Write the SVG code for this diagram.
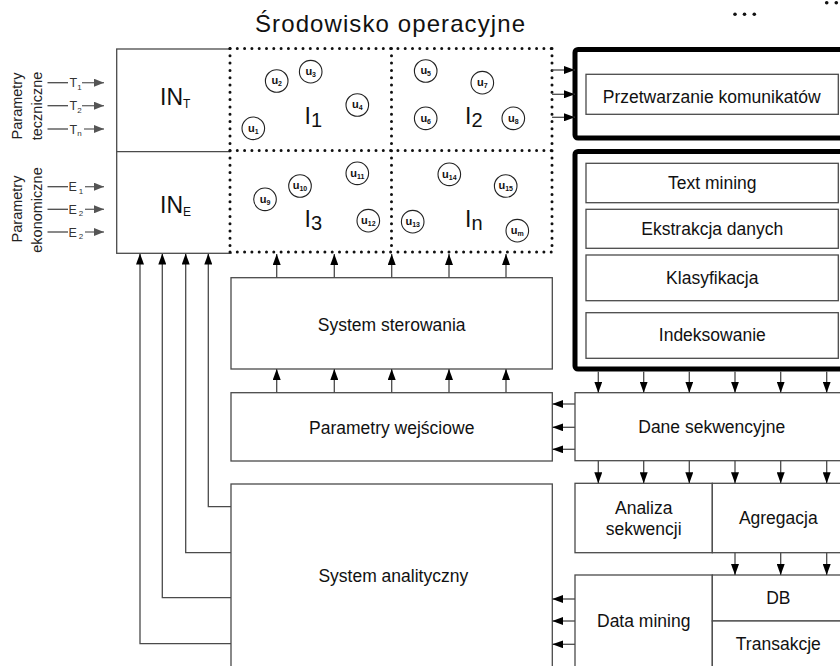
<svg xmlns="http://www.w3.org/2000/svg" width="840" height="666" viewBox="0 0 840 666">
  <style>
    .box { fill: #fff; stroke: #4a4a4a; stroke-width: 1.3; }
    .thick { fill: #fff; stroke: #000; stroke-width: 5; }
    .dots { fill: none; stroke: #111; stroke-width: 3; stroke-linecap: round; stroke-dasharray: 0 7.3; }
    .lbl { font-family: "Liberation Sans", Arial, sans-serif; font-size: 17.5px; fill: #111; text-anchor: middle; }
    .conn { fill: none; stroke: #4a4a4a; stroke-width: 1.3; }
    .arr { fill: none; stroke: #4a4a4a; stroke-width: 1.3; marker-end: url(#ah); }
    .garr { fill: none; stroke: #666; stroke-width: 1.3; marker-end: url(#ahg); }
    .par { font-family: "Liberation Sans", Arial, sans-serif; font-size: 12.5px; fill: #333; }
    .rot { font-family: "Liberation Sans", Arial, sans-serif; font-size: 14.5px; fill: #222; text-anchor: middle; }
    .ucirc { fill: #fff; stroke: #222; stroke-width: 1.1; }
    .ut { font-family: "Liberation Sans", Arial, sans-serif; font-size: 11px; font-weight: bold; fill: #111; text-anchor: middle; }
    .big { font-family: "Liberation Sans", Arial, sans-serif; font-size: 23px; fill: #111; }
    .dot { fill: #111; }
  </style>
  <defs>
    <marker id="ah" markerUnits="userSpaceOnUse" markerWidth="11" markerHeight="8" refX="11" refY="4" orient="auto">
      <path d="M0,0 L11,4 L0,8 z" fill="#000"/>
    </marker>
    <marker id="ahg" markerUnits="userSpaceOnUse" markerWidth="10" markerHeight="8" refX="10" refY="4" orient="auto">
      <path d="M0,0 L10,4 L0,8 z" fill="#555"/>
    </marker>
  </defs>

  <!-- title and continuation marks -->
  <text x="390" y="32" font-family="Liberation Sans, Arial, sans-serif" font-size="24" fill="#111" text-anchor="middle" textLength="270" lengthAdjust="spacing">Środowisko operacyjne</text>
  <g id="ellipsis">
    <circle class="dot" cx="735" cy="14.3" r="1.8"/>
    <circle class="dot" cx="744.5" cy="14.3" r="1.8"/>
    <circle class="dot" cx="754.3" cy="14.3" r="1.8"/>
    <circle class="dot" cx="826.7" cy="2.8" r="1.8"/>
    <circle class="dot" cx="836.3" cy="2.8" r="1.8"/>
  </g>

  <!-- input parameter labels -->
  <g id="param-tech">
    <text class="rot" transform="translate(22,106) rotate(-90)">Parametry</text>
    <text class="rot" transform="translate(41.5,106) rotate(-90)">teczniczne</text>
  </g>
  <g id="param-eco">
    <text class="rot" transform="translate(22,209) rotate(-90)">Parametry</text>
    <text class="rot" transform="translate(41.5,210) rotate(-90)">ekonomiczne</text>
  </g>

  <!-- input box IN_T / IN_E -->
  <g id="in-box">
    <rect class="box" x="116.7" y="49" width="114.3" height="204.3"/>
    <line class="conn" x1="116.7" y1="151.7" x2="231" y2="151.7"/>
    <text class="big" x="160" y="105" font-size="17.5">IN<tspan dy="3" font-size="12">T</tspan></text>
    <text class="big" x="160" y="213" font-size="17.5">IN<tspan dy="3" font-size="12">E</tspan></text>
  </g>

  <!-- operational environment: four dotted cells -->
  <g id="environment">
    <rect x="230" y="48.5" width="322" height="203.5" fill="#fff"/>
    <line class="dots" x1="230" y1="48.5" x2="552" y2="48.5"/>
    <line class="dots" x1="230" y1="150.5" x2="552" y2="150.5"/>
    <line class="dots" x1="230" y1="252" x2="552" y2="252"/>
    <line class="dots" x1="230" y1="48.5" x2="230" y2="252"/>
    <line class="dots" x1="391.5" y1="48.5" x2="391.5" y2="252"/>
    <line class="dots" x1="552" y1="48.5" x2="552" y2="252"/>
  </g>
  <g id="cell-I1">
    <text class="big" x="304.5" y="124">I<tspan dy="3" font-size="20">1</tspan></text>
  </g>
  <g id="cell-I2">
    <text class="big" x="465" y="124">I<tspan dy="3" font-size="20">2</tspan></text>
  </g>
  <g id="cell-I3">
    <text class="big" x="304.5" y="227">I<tspan dy="3" font-size="20">3</tspan></text>
  </g>
  <g id="cell-In">
    <text class="big" x="465" y="227">I<tspan dy="3" font-size="20">n</tspan></text>
  </g>

  <!-- units -->
  <g id="units">
    <g id="u1"><circle class="ucirc" cx="253.3" cy="128.3" r="11.3"/><text class="ut" x="253.3" y="131.5">u<tspan dy="2" font-size="7">1</tspan></text></g>
    <g id="u2"><circle class="ucirc" cx="276.7" cy="81" r="11.3"/><text class="ut" x="276.7" y="84.2">u<tspan dy="2" font-size="7">2</tspan></text></g>
    <g id="u3"><circle class="ucirc" cx="310.7" cy="71.7" r="11.3"/><text class="ut" x="310.7" y="74.9">u<tspan dy="2" font-size="7">3</tspan></text></g>
    <g id="u4"><circle class="ucirc" cx="357.3" cy="105" r="11.3"/><text class="ut" x="357.3" y="108.2">u<tspan dy="2" font-size="7">4</tspan></text></g>
    <g id="u5"><circle class="ucirc" cx="425.7" cy="71" r="11.3"/><text class="ut" x="425.7" y="74.2">u<tspan dy="2" font-size="7">5</tspan></text></g>
    <g id="u6"><circle class="ucirc" cx="425.7" cy="118.3" r="11.3"/><text class="ut" x="425.7" y="121.5">u<tspan dy="2" font-size="7">6</tspan></text></g>
    <g id="u7"><circle class="ucirc" cx="482.3" cy="82.7" r="11.3"/><text class="ut" x="482.3" y="85.9">u<tspan dy="2" font-size="7">7</tspan></text></g>
    <g id="u8"><circle class="ucirc" cx="513.3" cy="118.3" r="11.3"/><text class="ut" x="513.3" y="121.5">u<tspan dy="2" font-size="7">8</tspan></text></g>
    <g id="u9"><circle class="ucirc" cx="265" cy="199.3" r="11.3"/><text class="ut" x="265" y="202.5">u<tspan dy="2" font-size="7">9</tspan></text></g>
    <g id="u10"><circle class="ucirc" cx="300" cy="186" r="11.3"/><text class="ut" x="300" y="189.2">u<tspan dy="2" font-size="7">10</tspan></text></g>
    <g id="u11"><circle class="ucirc" cx="357.3" cy="173.3" r="11.3"/><text class="ut" x="357.3" y="176.5">u<tspan dy="2" font-size="7">11</tspan></text></g>
    <g id="u12"><circle class="ucirc" cx="368.3" cy="220.7" r="11.3"/><text class="ut" x="368.3" y="223.9">u<tspan dy="2" font-size="7">12</tspan></text></g>
    <g id="u13"><circle class="ucirc" cx="412.7" cy="221.7" r="11.3"/><text class="ut" x="412.7" y="224.9">u<tspan dy="2" font-size="7">13</tspan></text></g>
    <g id="u14"><circle class="ucirc" cx="449.3" cy="174.3" r="11.3"/><text class="ut" x="449.3" y="177.5">u<tspan dy="2" font-size="7">14</tspan></text></g>
    <g id="u15"><circle class="ucirc" cx="505.7" cy="186" r="11.3"/><text class="ut" x="505.7" y="189.2">u<tspan dy="2" font-size="7">15</tspan></text></g>
    <g id="um"><circle class="ucirc" cx="517.3" cy="230.7" r="11.3"/><text class="ut" x="517.3" y="233.9">u<tspan dy="2" font-size="7">m</tspan></text></g>
  </g>

  <!-- message processing block -->
  <g id="przetwarzanie">
    <rect class="thick" x="575" y="49.5" width="290" height="88.5" rx="3"/>
    <rect class="box" x="586" y="74.3" width="252.3" height="40"/>
    <text class="lbl" x="711.7" y="102.8">Przetwarzanie komunikatów</text>
  </g>

  <!-- text processing block -->
  <g id="text-processing">
    <rect class="thick" x="575" y="151.5" width="290" height="217.5" rx="3"/>
    <g id="text-mining">
      <rect class="box" x="586" y="163.3" width="252.3" height="39.4"/>
      <text class="lbl" x="712.3" y="188.8">Text mining</text>
    </g>
    <g id="ekstrakcja">
      <rect class="box" x="586" y="209.3" width="252.3" height="39"/>
      <text class="lbl" x="712.3" y="234.6">Ekstrakcja danych</text>
    </g>
    <g id="klasyfikacja">
      <rect class="box" x="586" y="255" width="252.3" height="45.7"/>
      <text class="lbl" x="712.3" y="284">Klasyfikacja</text>
    </g>
    <g id="indeksowanie">
      <rect class="box" x="586" y="312.7" width="252.3" height="45.6"/>
      <text class="lbl" x="712.3" y="341.3">Indeksowanie</text>
    </g>
  </g>

  <g id="system-sterowania">
    <rect class="box" x="231" y="277.7" width="321.3" height="91.3"/>
    <text class="lbl" x="391.7" y="331">System sterowania</text>
  </g>
  <g id="parametry-wejsciowe">
    <rect class="box" x="231" y="392.7" width="321.3" height="68.3"/>
    <text class="lbl" x="391.7" y="434.3">Parametry wejściowe</text>
  </g>
  <g id="system-analityczny">
    <rect class="box" x="231" y="484" width="321.3" height="200"/>
    <text class="lbl" x="393.3" y="581.7">System analityczny</text>
  </g>
  <g id="dane-sekwencyjne">
    <rect class="box" x="575" y="392.7" width="290" height="68"/>
    <text class="lbl" x="711.7" y="433.3">Dane sekwencyjne</text>
  </g>
  <g id="analiza-sekwencji">
    <rect class="box" x="575" y="483.3" width="137.3" height="69.4"/>
    <text class="lbl" x="643.7" y="513.7">Analiza</text>
    <text class="lbl" x="643.7" y="534.5">sekwencji</text>
  </g>
  <g id="agregacja">
    <rect class="box" x="712.3" y="483.3" width="150" height="69.4"/>
    <text class="lbl" x="778.3" y="523.8">Agregacja</text>
  </g>
  <g id="data-mining">
    <rect class="box" x="575" y="575" width="137.3" height="110"/>
    <text class="lbl" x="643.7" y="626.8">Data mining</text>
  </g>
  <g id="db">
    <rect class="box" x="712.3" y="575" width="150" height="46"/>
    <text class="lbl" x="778.3" y="604.4">DB</text>
  </g>
  <g id="transakcje">
    <rect class="box" x="712.3" y="621" width="150" height="60"/>
    <text class="lbl" x="778.3" y="650.4">Transakcje</text>
  </g>

  <!-- connectors -->
  <g id="connectors">
    <!-- technical and economic parameters into IN -->
    <g id="param-inputs">
      <line class="conn" x1="47.5" y1="82.7" x2="68" y2="82.7"/>
      <line class="garr" x1="82" y1="82.7" x2="104" y2="82.7"/>
      <text class="par" x="69.5" y="87.2">T<tspan dy="2.5" font-size="8">1</tspan></text>
      <line class="conn" x1="47.5" y1="105.7" x2="68" y2="105.7"/>
      <line class="garr" x1="82" y1="105.7" x2="104" y2="105.7"/>
      <text class="par" x="69.5" y="110.2">T<tspan dy="2.5" font-size="8">2</tspan></text>
      <line class="conn" x1="47.5" y1="129" x2="68" y2="129"/>
      <line class="garr" x1="84" y1="129" x2="104" y2="129"/>
      <text class="par" x="69.5" y="133.5">T<tspan dy="2.5" font-size="8">n</tspan></text>

      <line class="conn" x1="47.5" y1="186.7" x2="68" y2="186.7"/>
      <line class="garr" x1="85" y1="186.7" x2="104" y2="186.7"/>
      <text class="par" x="68.5" y="191.2">E<tspan dx="2" dy="2.5" font-size="8">1</tspan></text>
      <line class="conn" x1="47.5" y1="209.3" x2="68" y2="209.3"/>
      <line class="garr" x1="85" y1="209.3" x2="104" y2="209.3"/>
      <text class="par" x="68.5" y="213.8">E<tspan dx="2" dy="2.5" font-size="8">2</tspan></text>
      <line class="conn" x1="47.5" y1="232" x2="68" y2="232"/>
      <line class="garr" x1="85" y1="232" x2="104" y2="232"/>
      <text class="par" x="68.5" y="236.5">E<tspan dx="2" dy="2.5" font-size="8">2</tspan></text>
    </g>

    <!-- environment into message processing -->
    <line class="arr" x1="552" y1="70" x2="575" y2="70"/>
    <line class="arr" x1="552" y1="94.3" x2="575" y2="94.3"/>
    <line class="arr" x1="552" y1="117.3" x2="575" y2="117.3"/>

    <!-- control system into environment -->
    <line class="arr" x1="276.7" y1="277.7" x2="276.7" y2="254"/>
    <line class="arr" x1="334.3" y1="277.7" x2="334.3" y2="254"/>
    <line class="arr" x1="391.7" y1="277.7" x2="391.7" y2="254"/>
    <line class="arr" x1="449" y1="277.7" x2="449" y2="254"/>
    <line class="arr" x1="506" y1="277.7" x2="506" y2="254"/>

    <!-- input parameters into control system -->
    <line class="arr" x1="276.7" y1="392.7" x2="276.7" y2="369"/>
    <line class="arr" x1="334.3" y1="392.7" x2="334.3" y2="369"/>
    <line class="arr" x1="391.7" y1="392.7" x2="391.7" y2="369"/>
    <line class="arr" x1="449" y1="392.7" x2="449" y2="369"/>
    <line class="arr" x1="506" y1="392.7" x2="506" y2="369"/>

    <!-- text processing into sequential data -->
    <line class="arr" x1="598.3" y1="371.5" x2="598.3" y2="392.7"/>
    <line class="arr" x1="643.7" y1="371.5" x2="643.7" y2="392.7"/>
    <line class="arr" x1="689.3" y1="371.5" x2="689.3" y2="392.7"/>
    <line class="arr" x1="735" y1="371.5" x2="735" y2="392.7"/>
    <line class="arr" x1="780.7" y1="371.5" x2="780.7" y2="392.7"/>
    <line class="arr" x1="826.7" y1="371.5" x2="826.7" y2="392.7"/>

    <!-- sequential data into analysis / aggregation -->
    <line class="arr" x1="598.3" y1="460.7" x2="598.3" y2="483.3"/>
    <line class="arr" x1="643.7" y1="460.7" x2="643.7" y2="483.3"/>
    <line class="arr" x1="689.3" y1="460.7" x2="689.3" y2="483.3"/>
    <line class="arr" x1="735" y1="460.7" x2="735" y2="483.3"/>
    <line class="arr" x1="780.7" y1="460.7" x2="780.7" y2="483.3"/>
    <line class="arr" x1="826.7" y1="460.7" x2="826.7" y2="483.3"/>

    <!-- aggregation into DB -->
    <line class="arr" x1="735" y1="552.7" x2="735" y2="575"/>
    <line class="arr" x1="780.7" y1="552.7" x2="780.7" y2="575"/>
    <line class="arr" x1="826.7" y1="552.7" x2="826.7" y2="575"/>

    <!-- sequential data into input parameters -->
    <line class="arr" x1="575" y1="404" x2="552.3" y2="404"/>
    <line class="arr" x1="575" y1="427.3" x2="552.3" y2="427.3"/>
    <line class="arr" x1="575" y1="449.3" x2="552.3" y2="449.3"/>

    <!-- data mining into analytic system -->
    <line class="arr" x1="575" y1="599" x2="552.3" y2="599"/>
    <line class="arr" x1="575" y1="621" x2="552.3" y2="621"/>
    <line class="arr" x1="575" y1="644.3" x2="552.3" y2="644.3"/>

    <!-- analytic system feedback into IN -->
    <polyline class="arr" points="231,506.7 208.3,506.7 208.3,253.5"/>
    <polyline class="arr" points="231,552.7 185.7,552.7 185.7,253.5"/>
    <polyline class="arr" points="231,597.7 162.3,597.7 162.3,253.5"/>
    <polyline class="arr" points="231,643.7 140,643.7 140,253.5"/>
  </g>
</svg>
